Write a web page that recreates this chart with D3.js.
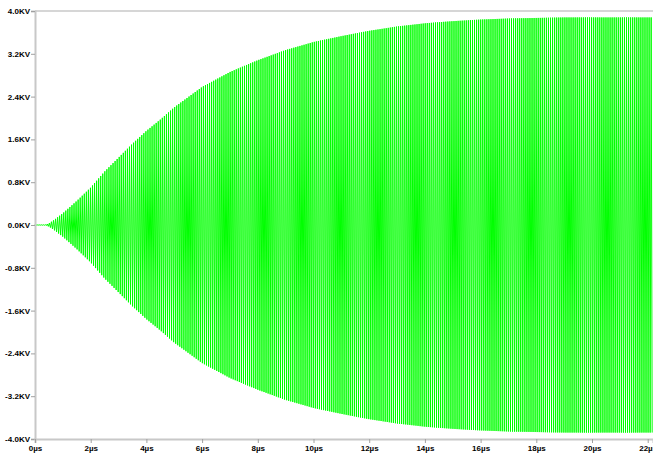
<!DOCTYPE html>
<html>
<head>
<meta charset="utf-8">
<script src="https://cdn.jsdelivr.net/npm/d3@7"></script>
<style>
    body { margin: 0; background: #fff; }
    .axis text { font-family: "Liberation Sans", Arial, sans-serif; font-weight: bold; font-size: 8px; fill: #000; }
</style>
</head>
<body>
<svg id="plot" width="653" height="454"></svg>
<script>

// Envelope of the oscillation (time in µs, amplitude in KV):
var envTime = [0, 0.4, 0.5, 0.7, 1.0, 1.5, 2.0, 2.5, 3.0, 3.5, 4.0, 4.5, 5.0, 6.0, 7.0, 8.0, 9.0, 10, 11, 12, 13, 14, 15, 16, 17, 18, 19, 20, 21, 22, 22.2];
var envUpper = [0.01, 0.01, 0.03, 0.1, 0.22, 0.45, 0.7, 1.0, 1.26, 1.52, 1.76, 1.97, 2.2, 2.58, 2.86, 3.08, 3.27, 3.42, 3.53, 3.63, 3.71, 3.77, 3.81, 3.84, 3.86, 3.87, 3.88, 3.88, 3.88, 3.88, 3.88];
var envLower = [-0.01, -0.01, -0.03, -0.1, -0.22, -0.45, -0.7, -1.0, -1.26, -1.52, -1.76, -1.97, -2.2, -2.58, -2.86, -3.08, -3.27, -3.42, -3.53, -3.63, -3.71, -3.77, -3.81, -3.84, -3.86, -3.87, -3.88, -3.88, -3.88, -3.88, -3.88];

// Carrier frequency (cycles per µs), counted from the stripes:
var carrierFreq = 13.56;

// Tick labels:
var xTicks = [0, 2, 4, 6, 8, 10, 12, 14, 16, 18, 20, 22];
var yTicks = [-4.0, -3.2, -2.4, -1.6, -0.8, 0.0, 0.8, 1.6, 2.4, 3.2, 4.0];

// Layout:
var svg = d3.select("#plot");
var padLeft = 35, padRight = 653, padTop = 11, padBottom = 439;

// Scaling:
var xScale = d3.scaleLinear()
    .domain([0, 22.19])
    .range([padLeft, padRight]);

var yScale = d3.scaleLinear()
    .domain([-4, 4])
    .range([padBottom, padTop]);

// Envelope lookup between the read points:
var upper = d3.scaleLinear().domain(envTime).range(envUpper).clamp(true);
var lower = d3.scaleLinear().domain(envTime).range(envLower).clamp(true);

// Waveform: one point per half cycle, alternating between the envelopes
var wave = [];
var halfPeriod = 1 / (2 * carrierFreq);
for (var k = 0; k * halfPeriod <= 22.19; k++) {
    var t = k * halfPeriod;
    wave.push([t, k % 2 == 0 ? upper(t) : lower(t)]);
}

var line = d3.line()
    .x(function (d) { return xScale(d[0]); })
    .y(function (d) { return yScale(d[1]); });

svg.append("path")
    .datum(wave)
    .attr("fill", "none")
    .attr("stroke", "#00ff00")
    .attr("stroke-width", 1)
    .attr("d", line);

// Top frame line:
svg.append("line")
    .attr("x1", padLeft).attr("x2", padRight)
    .attr("y1", padTop).attr("y2", padTop)
    .attr("stroke", "#c8c8c8")
    .attr("stroke-width", 1.5);

// y Axis (left):
svg.append("g")
    .attr("class", "axis")
    .attr("transform", "translate(" + padLeft + ",0)")
    .call(d3.axisLeft(yScale)
        .tickValues(yTicks)
        .tickSize(4)
        .tickPadding(1)
        .tickFormat(function (d) { return d.toFixed(1) + "KV"; }));

// x Axis (bottom):
svg.append("g")
    .attr("class", "axis")
    .attr("transform", "translate(0," + padBottom + ")")
    .call(d3.axisBottom(xScale)
        .tickValues(xTicks)
        .tickSize(4)
        .tickPadding(2)
        .tickFormat(function (d) { return d + "µs"; }));

svg.selectAll(".axis .domain")
    .attr("stroke", "#c8c8c8")
    .attr("stroke-width", 2);
svg.selectAll(".axis .tick line")
    .attr("stroke", "#a0a0a0");

</script>
</body>
</html>
